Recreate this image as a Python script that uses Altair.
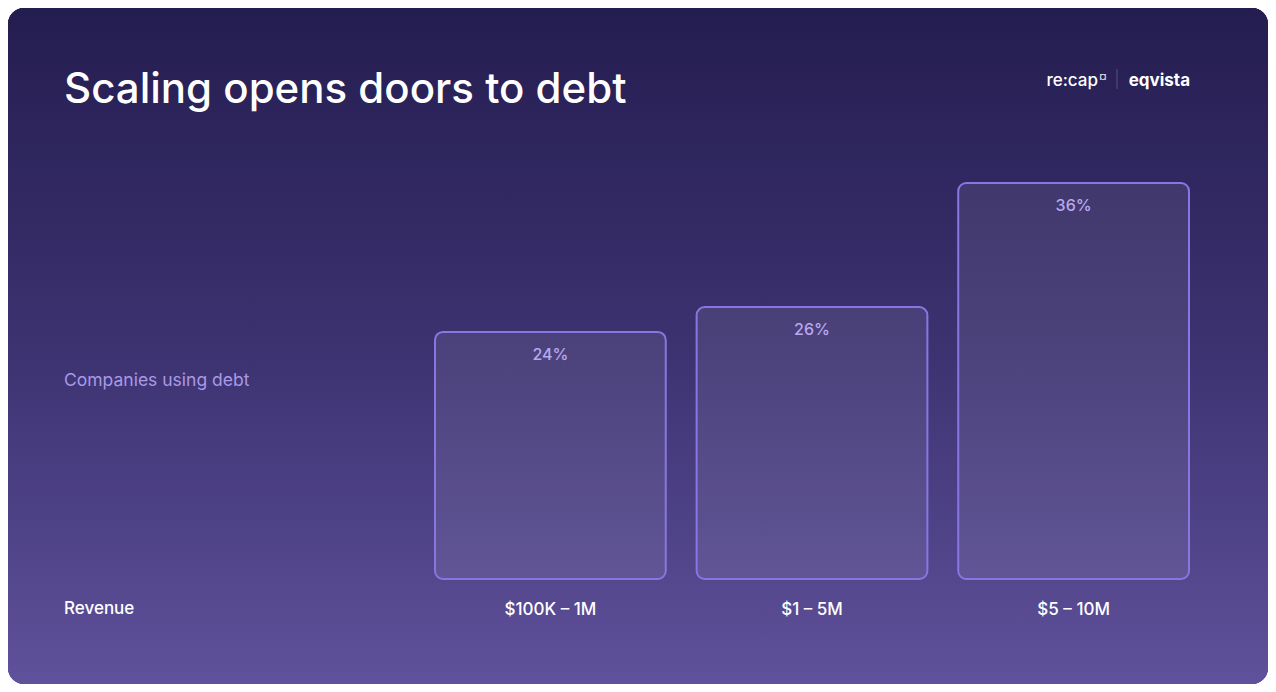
import altair as alt
import pandas as pd

# ---- data ----
revenue_bands = ["$100K – 1M", "$1 – 5M", "$5 – 10M"]
share_using_debt = [24, 26, 36]
bar_labels = ["24%", "26%", "36%"]

title_text = "Scaling opens doors to debt"
measure_label = "Companies using debt"
category_label = "Revenue"

df = pd.DataFrame({"band": revenue_bands, "share": share_using_debt, "label": bar_labels})

FONT = "Inter"
W, H = 754, 429          # plot area
PL, PT = 427, 142        # padding left / top
TOTAL_W, TOTAL_H = 1260, 676
Y_MIN, Y_MAX = 4.09, 38.66

x_enc = alt.X("band:N", sort=revenue_bands, title=None,
              scale=alt.Scale(paddingInner=0.118, paddingOuter=0),
              axis=alt.Axis(labelAngle=0, ticks=False, domain=False, grid=False,
                            labelColor="#ffffff", labelFontSize=17, labelFont=FONT,
                            labelPadding=30, labelBaseline="middle", labelFontWeight=500,
                            zindex=2))
y_scale = alt.Scale(domain=[Y_MIN, Y_MAX], zero=False, nice=False)

base = alt.Chart(df)

background = base.mark_rect(
    cornerRadius=16,
    color=alt.Gradient(gradient="linear", x1=0, y1=0, x2=0, y2=1,
                       stops=[alt.GradientStop(color="#241d50", offset=0),
                              alt.GradientStop(color="#3c3270", offset=0.5),
                              alt.GradientStop(color="#5f519b", offset=1)]),
).encode(x=alt.value(-PL), x2=alt.value(TOTAL_W - PL),
         y=alt.value(-PT), y2=alt.value(TOTAL_H - PT))

bars = base.mark_bar(
    cornerRadius=8, fill="#ffffff", fillOpacity=0.08,
    stroke="#8a75e3", strokeWidth=2,
).encode(x=x_enc, y=alt.Y("share:Q", scale=y_scale, axis=None), y2=alt.datum(Y_MIN))

labels = base.mark_text(
    dy=23, baseline="middle", align="center", font=FONT, fontSize=16,
    fontWeight=500, color="#b8a8f0",
).encode(x=alt.X("band:N", sort=revenue_bands), y=alt.Y("share:Q", scale=y_scale), text="label:N")

def txt(text, x, y, size, color, weight=400, align="left", baseline="alphabetic"):
    return alt.Chart(pd.DataFrame({"t": [text]})).mark_text(
        font=FONT, fontSize=size, color=color, fontWeight=weight,
        align=align, baseline=baseline,
    ).encode(text="t:N", x=alt.value(x), y=alt.value(y))

title = txt(title_text, -371, -47, 42, "#ffffff", weight=500)
ylab = txt(measure_label, -371, 231, 17.5, "#a999e6", baseline="middle")
xlab = txt(category_label, -371, 459, 17, "#ffffff", weight=500, baseline="middle")

logo1 = txt("re:cap", 663, -64, 17, "#ffffff", weight=500, align="right")
logo2 = txt("¤", 668, -70, 10, "#ffffff", weight=500, align="center")
logo3 = txt("eqvista", 755, -64, 17, "#ffffff", weight=700, align="right")
divider = alt.Chart(pd.DataFrame({"a": [0]})).mark_rule(color="#5b4f8c", strokeWidth=1).encode(
    x=alt.value(682), y=alt.value(-81), y2=alt.value(-61))

chart = alt.layer(background, bars, labels, title, ylab, xlab, logo1, logo2, logo3, divider).properties(
    width=W, height=H,
    autosize=alt.AutoSizeParams(type="none"),
    padding={"left": PL, "top": PT, "right": TOTAL_W - PL - W, "bottom": TOTAL_H - PT - H},
).configure_view(stroke=None).configure(background="#ffffff")

chart.save("out.html", embed_options={"renderer": "svg", "actions": False})
